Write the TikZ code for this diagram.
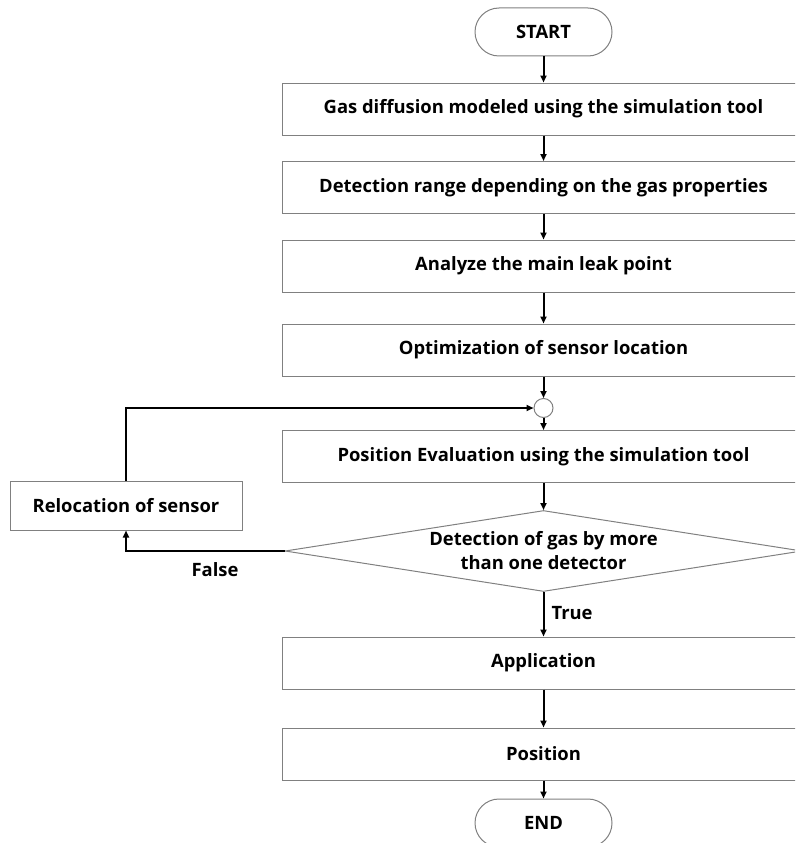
\documentclass[tikz,border=0pt]{standalone}
\usepackage{fontspec}
\setmainfont{Open Sans}
\usetikzlibrary{shapes.geometric,arrows.meta}

\tikzset{
    stepbox/.style={rectangle, draw=black!50, line width=1pt, minimum width=523pt, minimum height=52pt, inner sep=0pt},
    terminal/.style={rectangle, rounded corners=24pt, draw=black!50, line width=1pt, minimum width=137pt, minimum height=48pt},
    decision/.style={diamond, aspect=6.4, draw=black!50, line width=1pt, minimum width=517pt, minimum height=81pt, inner sep=0pt, align=center},
    junction/.style={circle, draw=black!50, line width=1pt, minimum size=19pt, inner sep=0pt},
    flow/.style={line width=2pt, -{Triangle[length=7pt,width=6pt]}},
    lbl/.style={font=\fontsize{18.4}{24}\selectfont\bfseries}
}

\begin{document}
\begin{tikzpicture}[x=1pt, y=-1pt, every node/.style={lbl}]
        \clip (0, 0) rectangle (795, 843);

        \node[terminal] (start) at (543.5, 32) {START};
        \node[stepbox] (model) at (543.5, 109) {Gas diffusion modeled using the simulation tool};
        \node[stepbox] (range) at (543.5, 187.5) {Detection range depending on the gas properties};
        \node[stepbox] (leak) at (543.5, 266) {Analyze the main leak point};
        \node[stepbox] (optim) at (543.5, 350) {Optimization of sensor location};
        \node[junction] (join) at (543.5, 408) {};
        \node[stepbox] (eval) at (543.5, 456.5) {Position Evaluation using the simulation tool};
        \node[decision] (check) at (543.5, 551) {Detection of gas by more\\than one detector};
        \node[stepbox, minimum width=232pt, minimum height=49pt] (reloc) at (126, 505.5) {Relocation of sensor};
        \node[stepbox] (apply) at (543.5, 663) {Application};
        \node[stepbox] (pos) at (543.5, 754) {Position};
        \node[terminal] (end) at (543.5, 823) {END};

        \draw[flow] (start) -- (model);
        \draw[flow] (model) -- (range);
        \draw[flow] (range) -- (leak);
        \draw[flow] (leak) -- (optim);
        \draw[flow] (optim) -- (join);
        \draw[flow] (join) -- (eval);
        \draw[flow] (eval) -- (check);
        \draw[flow] (check) -- (apply);
        \draw[flow] (apply) -- (pos);
        \draw[flow] (pos) -- (end);
        \draw[flow] (check.west) -| (reloc.south);
        \draw[flow] (reloc.north) |- (join.west);

        \node (false) at (215, 570) {False};
        \node[anchor=west] (true) at (548, 613) {True};

\end{tikzpicture}
\end{document}
